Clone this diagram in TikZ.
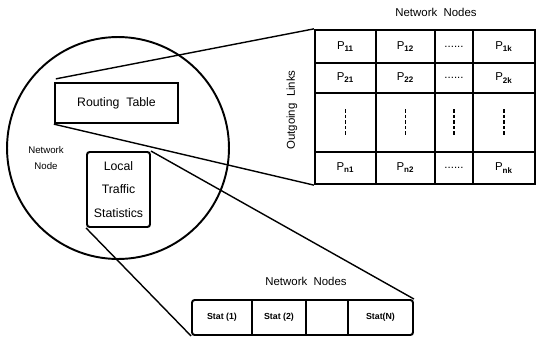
\documentclass[tikz,border=0pt]{standalone}
\usepackage{fontspec}
\setmainfont{Liberation Sans}
\usetikzlibrary{positioning,calc}

\begin{document}
\begin{tikzpicture}[x=0.02cm,y=-0.02cm,
  bigbox/.style={rectangle,draw,line width=1.3pt,inner sep=0pt},
  cell/.style={font=\fontsize{6.5}{7}\selectfont,inner sep=0pt},
  statlbl/.style={font=\fontsize{5}{6}\selectfont\bfseries,inner sep=0pt},
  lbl/.style={font=\fontsize{6.5}{7}\selectfont,inner sep=0pt},
  grid/.style={line width=0.6pt},
  link/.style={line width=0.8pt}
]
\useasboundingbox (0,0) rectangle (536,341);

% ---- Network node (circle) ----------------------------------
\node[circle,draw,line width=1.1pt,minimum size=4.44cm,inner sep=0pt] (nn) at (118,148) {};
\node[lbl,align=center,font=\fontsize{5.5}{9}\selectfont] (nnlbl) at (46,158) {Network\\Node};

\node[bigbox,minimum width=2.46cm,minimum height=0.8cm,font=\fontsize{7}{8}\selectfont]
  (rt) at (116.5,103) {Routing\ \ Table};
\node[bigbox,line width=1.1pt,rounded corners=1.5pt,minimum width=1.26cm,minimum height=1.5cm,
  align=center,font=\fontsize{7}{13.6}\selectfont] (lts) at (118.5,189.5) {Local\\Traffic\\Statistics};

% ---- Routing table (expanded) -------------------------------
\node[bigbox,minimum width=4.4cm,minimum height=3.08cm] (tab) at (425,107) {};
\node[lbl] (tabtop) at (436,12) {Network\ \ Nodes};
\node[lbl,rotate=90] (tabside) at (292,110) {Outgoing\ \ Links};

\draw[line width=1.1pt] (376,30) -- (376,184);
\draw[grid] (435,30) -- (435,184);
\draw[grid] (473,30) -- (473,184);
\draw[grid] (315,63) -- (535,63);
\draw[grid] (315,93) -- (535,93);
\draw[line width=1.1pt] (315,152) -- (535,152);

\foreach \r/\y in {1/46.5,2/78,n/168}{
  \node[cell] (p\r1) at (345.5,\y) {P\textsubscript{\bfseries\r1}};
  \node[cell] (p\r2) at (405.5,\y) {P\textsubscript{\bfseries\r2}};
  \node[cell] (p\r d) at (454,\y) {......};
  \node[cell] (p\r k) at (504,\y) {P\textsubscript{\bfseries\r k}};
}
\foreach \x in {345.5,405.5,454,504}
  \draw[line width=0.6pt,dash pattern=on 2pt off 1.2pt] (\x,109) -- (\x,137);

% ---- Local traffic statistics (expanded) --------------------
\node[bigbox,line width=1.1pt,rounded corners=1.5pt,minimum width=4.42cm,minimum height=0.7cm]
  (stats) at (302.5,317.5) {};
\node[lbl] (statstop) at (306,281) {Network\ \ Nodes};
\draw[grid] (252,300) -- (252,335);
\draw[grid] (306,300) -- (306,335);
\draw[grid] (348,300) -- (348,335);
\node[statlbl] (s1) at (222,317.5) {Stat (1)};
\node[statlbl] (s2) at (279,317.5) {Stat (2)};
\node[statlbl] (sn) at (380.5,317.5) {Stat(N)};

% ---- Zoom lines ---------------------------------------------
\draw[link] (rt.north west) ++(2,-3) -- (tab.north west);
\draw[link] (rt.south west) -- (tab.south west);
\draw[link] (lts.north east) -- (stats.north east);
\draw[link] (lts.south west) -- (stats.south west);

\end{tikzpicture}
\end{document}
